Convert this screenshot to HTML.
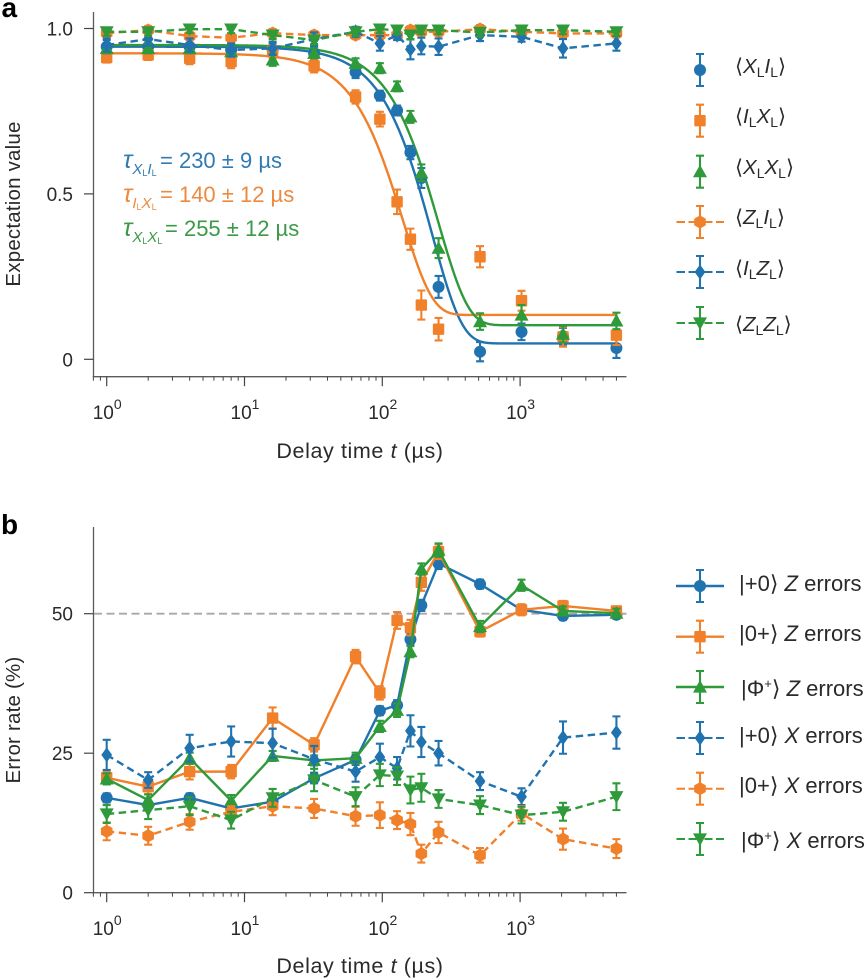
<!DOCTYPE html>
<html lang="en">
<head>
<meta charset="utf-8">
<title>Expectation values and error rates vs delay time</title>
<style>
html,body{margin:0;padding:0;background:#fff;}
svg{display:block;}
text{font-family:"Liberation Sans","DejaVu Sans",sans-serif;fill:#2a2a2a;}
.tick{font-size:19px;}
.axt{font-size:21.5px;letter-spacing:.6px;}
.axy{font-size:20.5px;letter-spacing:.2px;}
.lega{font-size:20.5px;}
.leg{font-size:22px;}
.ann{font-size:22px;}
.sym{font-family:"DejaVu Sans","Liberation Sans",sans-serif;font-weight:200;}
.panel{font-size:28px;font-weight:bold;fill:#000;}
</style>
</head>
<body>
<svg id="fig" xmlns="http://www.w3.org/2000/svg" width="867" height="980" viewBox="0 0 867 980">
  <text class="panel" x="1.5" y="17">a</text>
  <text class="panel" x="1" y="534">b</text>

  <text class="axy" transform="translate(20,204) rotate(-90)" text-anchor="middle">Expectation value</text>
  <text class="axt" x="360" y="458" text-anchor="middle">Delay time <tspan font-style="italic">t</tspan> (µs)</text>
  <text class="axy" transform="translate(20,720) rotate(-90)" text-anchor="middle">Error rate (%)</text>
  <text class="axt" x="360" y="973" text-anchor="middle">Delay time <tspan font-style="italic">t</tspan> (µs)</text>

  <g id="plot-a"></g>
  <g id="plot-b"></g>
  <g id="legend-marks"></g>

  <text class="ann" x="123" y="168" style="fill:#2f7bb2"><tspan font-style="italic" font-size="25">τ</tspan><tspan font-style="italic" font-size="15" dy="6">X</tspan><tspan font-size="9" dy="2">L</tspan><tspan font-style="italic" font-size="15" dy="-2">I</tspan><tspan font-size="9" dy="2">L</tspan><tspan x="160" y="168">= 230 ± 9 µs</tspan></text>
  <text class="ann" x="123" y="202" style="fill:#ec8a40"><tspan font-style="italic" font-size="25">τ</tspan><tspan font-style="italic" font-size="15" dy="6">I</tspan><tspan font-size="9" dy="2">L</tspan><tspan font-style="italic" font-size="15" dy="-2">X</tspan><tspan font-size="9" dy="2">L</tspan><tspan x="160" y="202">= 140 ± 12 µs</tspan></text>
  <text class="ann" x="123" y="236" style="fill:#3b9a48"><tspan font-style="italic" font-size="25">τ</tspan><tspan font-style="italic" font-size="15" dy="6">X</tspan><tspan font-size="9" dy="2">L</tspan><tspan font-style="italic" font-size="15" dy="-2">X</tspan><tspan font-size="9" dy="2">L</tspan><tspan x="165" y="236">= 255 ± 12 µs</tspan></text>

  <g>
    <text class="lega" x="735" y="73"><tspan class="sym">⟨</tspan><tspan font-style="italic">X</tspan><tspan font-size="14" dy="4">L</tspan><tspan font-style="italic" dy="-4">I</tspan><tspan font-size="14" dy="4">L</tspan><tspan class="sym" dy="-4">⟩</tspan></text>
    <text class="lega" x="735" y="123"><tspan class="sym">⟨</tspan><tspan font-style="italic">I</tspan><tspan font-size="14" dy="4">L</tspan><tspan font-style="italic" dy="-4">X</tspan><tspan font-size="14" dy="4">L</tspan><tspan class="sym" dy="-4">⟩</tspan></text>
    <text class="lega" x="735" y="174"><tspan class="sym">⟨</tspan><tspan font-style="italic">X</tspan><tspan font-size="14" dy="4">L</tspan><tspan font-style="italic" dy="-4">X</tspan><tspan font-size="14" dy="4">L</tspan><tspan class="sym" dy="-4">⟩</tspan></text>
    <text class="lega" x="735" y="224"><tspan class="sym">⟨</tspan><tspan font-style="italic">Z</tspan><tspan font-size="14" dy="4">L</tspan><tspan font-style="italic" dy="-4">I</tspan><tspan font-size="14" dy="4">L</tspan><tspan class="sym" dy="-4">⟩</tspan></text>
    <text class="lega" x="735" y="275"><tspan class="sym">⟨</tspan><tspan font-style="italic">I</tspan><tspan font-size="14" dy="4">L</tspan><tspan font-style="italic" dy="-4">Z</tspan><tspan font-size="14" dy="4">L</tspan><tspan class="sym" dy="-4">⟩</tspan></text>
    <text class="lega" x="735" y="331"><tspan class="sym">⟨</tspan><tspan font-style="italic">Z</tspan><tspan font-size="14" dy="4">L</tspan><tspan font-style="italic" dy="-4">Z</tspan><tspan font-size="14" dy="4">L</tspan><tspan class="sym" dy="-4">⟩</tspan></text>
  </g>
  <g>
    <text class="leg" x="739" y="591">|+0<tspan class="sym">⟩</tspan> <tspan font-style="italic">Z</tspan> errors</text>
    <text class="leg" x="739" y="641">|0+<tspan class="sym">⟩</tspan> <tspan font-style="italic">Z</tspan> errors</text>
    <text class="leg" x="741" y="696">|Φ<tspan font-size="13" dy="-8">+</tspan><tspan class="sym" dy="8">⟩</tspan> <tspan font-style="italic">Z</tspan> errors</text>
    <text class="leg" x="739" y="743">|+0<tspan class="sym">⟩</tspan> <tspan font-style="italic">X</tspan> errors</text>
    <text class="leg" x="739" y="793">|0+<tspan class="sym">⟩</tspan> <tspan font-style="italic">X</tspan> errors</text>
    <text class="leg" x="741" y="848">|Φ<tspan font-size="13" dy="-8">+</tspan><tspan class="sym" dy="8">⟩</tspan> <tspan font-style="italic">X</tspan> errors</text>
  </g>
</svg>
<script>
// ---- shared categories ----
const delayTimes = [1,2,4,8,16,32,64,96,128,160,192,256,512,1024,2048,5000];
const xTickExponents = [0,1,2,3];
const yTicksA = [0,0.5,1];
const yTickLabelsA = ['0','0.5','1.0'];
const yTicksB = [0,25,50];
const yTickLabelsB = ['0','25','50'];

// ---- panel a values ----
const xiValues = [.945,.945,.945,.935,.935,.925,.868,.797,.752,.625,.548,.219,.023,.083,.07,.034];
const xiErrors = [.02,.02,.02,.02,.02,.02,.018,.015,.015,.02,.03,.033,.029,.025,.025,.03];
const ixValues = [.912,.92,.91,.9,.93,.887,.793,.726,.476,.363,.164,.091,.31,.177,.068,.073];
const ixErrors = [.015,.015,.018,.02,.02,.02,.02,.022,.037,.032,.044,.034,.032,.03,.03,.03];
const xxValues = [.94,.94,.94,.93,.905,.925,.895,.88,.825,.733,.564,.336,.114,.134,.076,.116];
const xxErrors = [.015,.015,.015,.015,.018,.015,.015,.015,.015,.018,.025,.03,.025,.03,.025,.025];
const ziValues = [.986,.995,.977,.972,.986,.98,.98,.98,.98,.995,.99,.99,.998,.99,.985,.985];
const ziErrors = [.012,.012,.012,.012,.012,.012,.012,.012,.012,.012,.012,.012,.012,.012,.012,.012];
const izValues = [.95,.968,.95,.935,.94,.968,.99,.955,.98,.937,.947,.945,.98,.975,.94,.955];
const izErrors = [.02,.02,.02,.02,.02,.02,.015,.022,.015,.03,.025,.025,.018,.015,.028,.022];
const zzValues = [.99,.99,.998,.998,.98,.965,.99,.998,.995,.98,.995,.995,.988,.995,.995,.99];
const zzErrors = [.012,.012,.012,.012,.012,.012,.012,.012,.012,.012,.012,.012,.012,.012,.012,.012];

// ---- panel a decay-fit parameters ----
const fitNames = ['xi','ix','xx'];
const fitTau = [230,140,255];
const fitTop = [.945,.925,.95];
const fitBottom = [.048,.134,.103];

// ---- panel b values ----
const plus0Z = [17,15.7,17,15.1,16.3,20.5,23.8,32.6,33.6,45.4,51.5,59,55.3,50.7,49.6,49.8];
const plus0ZErr = [.8,.8,.8,.8,.8,.9,.9,.8,.9,1,1,1,.8,.8,.7,.7];
const zeroPlusZ = [20.6,19,21.7,21.7,31.3,26.5,42.3,35.8,48.8,47.5,55.6,61.1,46.8,50.7,51.4,50.5];
const zeroPlusZErr = [1.2,1.3,1.4,1.2,1.9,1.2,1.2,1.2,1.5,1.4,1.5,1.3,.9,1,.9,.8];
const phiZ = [20.4,16.6,24.1,16.5,24.5,23.7,24.1,29.8,32.7,43.2,58,61.4,47.7,55.1,50.5,50.1];
const phiZErr = [1,1,1,1,.9,.9,1,1,1.2,1,1,1.2,1,1,.8,.8];
const plus0X = [24.7,20.2,25.9,27.1,26.8,23.9,21.7,24.3,22.3,29,27,25,20,17.2,27.8,28.7];
const plus0XErr = [2.7,1.4,2.4,2.7,2.6,2.4,1.8,2.4,2,2.8,2.7,2.2,1.6,1.5,2.9,2.9];
const zeroPlusX = [11,10.2,12.7,14.5,15.5,15.1,13.7,13.9,13,12.3,7,10.8,6.7,14.2,9.6,7.9];
const zeroPlusXErr = [1.6,1.6,1.4,1,1.6,1.7,1.7,2.3,1.6,2,1.6,1.9,1.3,1.3,1.9,1.7];
const phiX = [14.1,14.8,15.5,13,17,20.2,17.2,21.1,20.9,18.4,18.8,16.8,15.7,13.9,14.5,17.2];
const phiXErr = [1.6,1.6,1.6,1.5,1.6,2,1.7,2,1.6,2.4,2.5,1.6,1.6,1.5,1.6,2.4];

const BLUE='#2073ae', ORANGE='#f0802a', GREEN='#2f9a3a';
const NS='http://www.w3.org/2000/svg';

function make(parent, tag, attrs){
  const el=document.createElementNS(NS,tag);
  for(const k in attrs) el.setAttribute(k,attrs[k]);
  parent.appendChild(el);
  return el;
}
const xScale = t => 106.7 + 137.8*Math.log10(t);
const yScaleA = v => 359.3 - 330.8*v;
const yScaleB = v => 892.7 - 5.58*v;

function markerShape(parent, kind, cx, cy, color){
  let el;
  const pts = a => a.map(p=>(cx+p[0])+','+(cy+p[1])).join(' ');
  if(kind==='circle') el=make(parent,'circle',{cx:cx,cy:cy,r:6,fill:color});
  else if(kind==='square') el=make(parent,'rect',{x:cx-5.7,y:cy-5.7,width:11.4,height:11.4,rx:1,fill:color});
  else if(kind==='up') el=make(parent,'polygon',{points:pts([[0,-7],[7,5.6],[-7,5.6]]),fill:color});
  else if(kind==='down') el=make(parent,'polygon',{points:pts([[0,7],[7,-5.6],[-7,-5.6]]),fill:color});
  else if(kind==='diamond') el=make(parent,'polygon',{points:pts([[0,-7.5],[5.4,0],[0,7.5],[-5.4,0]]),fill:color});
  else el=make(parent,'polygon',{points:pts([[0,-6.6],[5.8,-3.3],[5.8,3.3],[0,6.6],[-5.8,3.3],[-5.8,-3.3]]),fill:color});
  return el;
}

function errorBar(parent, x, y1, y2, color){
  const d='M'+x+' '+y1+'V'+y2+'M'+(x-4)+' '+y1+'H'+(x+4)+'M'+(x-4)+' '+y2+'H'+(x+4);
  const el=make(parent,'path',{d:d,stroke:color,'stroke-width':2.1,fill:'none'});
  
  
}

function drawAxes(g, yTicks, yLabels, yScale, top, bottom, axisName){
  const spineY=make(g,'line',{x1:93.5,x2:93.5,y1:top,y2:bottom,stroke:'#5a5a5a','stroke-width':1.3});
  
  
  const spineX=make(g,'line',{x1:92.8,x2:626.5,y1:bottom,y2:bottom,stroke:'#5a5a5a','stroke-width':1.3});
  
  
  yTicks.forEach((v,i)=>{
    const tk=make(g,'line',{x1:84,x2:93.5,y1:yScale(v),y2:yScale(v),stroke:'#444','stroke-width':1.2});
    
    
    const lb=make(g,'text',{x:73,y:yScale(v)+7,'text-anchor':'end','class':'tick'});
    
    
    lb.textContent=yLabels[i];
  });
  for(let e=-1;e<=3;e++){
    for(let m=1;m<=9;m++){
      const t=m*Math.pow(10,e), x=xScale(t);
      if(x<93||x>627) continue;
      const major=m===1;
      const tk=make(g,'line',{x1:x,x2:x,y1:bottom,y2:bottom+(major?9.5:4),stroke:'#444','stroke-width':major?1.2:1});
      
      
    }
  }
  xTickExponents.forEach(e=>{
    const x=xScale(Math.pow(10,e));
    const lb=make(g,'text',{x:x-14,y:bottom+42.5,'class':'tick'});
    
    
    lb.textContent='10';
    const sup=make(lb,'tspan',{dy:-10,'font-size':14});
    sup.textContent=String(e);
  });
}

function drawSeries(g, name, values, errors, yScale, kind, color, lineMode){
  const s=make(g,'g',{});
  
  
  if(lineMode){
    const pts=values.map((v,i)=>xScale(delayTimes[i])+','+yScale(v)).join(' ');
    const ln=make(s,'polyline',{points:pts,fill:'none',stroke:color,'stroke-width':2.4,'stroke-linejoin':'round'});
    if(lineMode==='dash') ln.setAttribute('stroke-dasharray','7.5 4.5');
    
    
  }
  values.forEach((v,i)=>{
    const x=xScale(delayTimes[i]);
    errorBar(s,x,yScale(v+errors[i]),yScale(v-errors[i]),color);
    const m=markerShape(s,kind,x,yScale(v),color);
    
    
  });
}

function fitCurve(g, idx, color){
  const d=[];
  for(let lt=0;lt<=3.7;lt+=0.01){
    const t=Math.pow(10,lt);
    const v=fitBottom[idx]+(fitTop[idx]-fitBottom[idx])*Math.exp(-Math.pow(t/fitTau[idx],2));
    d.push(xScale(t).toFixed(2)+','+yScaleA(v).toFixed(2));
  }
  const ln=make(g,'polyline',{points:d.join(' '),fill:'none',stroke:color,'stroke-width':2.4});
  
  
}

const gA=document.getElementById('plot-a');
drawAxes(gA,yTicksA,yTickLabelsA,yScaleA,12,376.7,'a');
fitCurve(gA,0,BLUE);
fitCurve(gA,1,ORANGE);
fitCurve(gA,2,GREEN);
drawSeries(gA,'xi',xiValues,xiErrors,yScaleA,'circle',BLUE,null);
drawSeries(gA,'ix',ixValues,ixErrors,yScaleA,'square',ORANGE,null);
drawSeries(gA,'xx',xxValues,xxErrors,yScaleA,'up',GREEN,null);
drawSeries(gA,'zi',ziValues,ziErrors,yScaleA,'hex',ORANGE,'dash');
drawSeries(gA,'iz',izValues,izErrors,yScaleA,'diamond',BLUE,'dash');
drawSeries(gA,'zz',zzValues,zzErrors,yScaleA,'down',GREEN,'dash');

const gB=document.getElementById('plot-b');
drawAxes(gB,yTicksB,yTickLabelsB,yScaleB,527,892.7,'b');
const refLine=make(gB,'line',{x1:94,x2:626.5,y1:yScaleB(50),y2:yScaleB(50),stroke:'#a8a8a8','stroke-width':1.8,'stroke-dasharray':'8 4.5'});


drawSeries(gB,'plus0-z',plus0Z,plus0ZErr,yScaleB,'circle',BLUE,'solid');
drawSeries(gB,'0plus-z',zeroPlusZ,zeroPlusZErr,yScaleB,'square',ORANGE,'solid');
drawSeries(gB,'phi-z',phiZ,phiZErr,yScaleB,'up',GREEN,'solid');
drawSeries(gB,'plus0-x',plus0X,plus0XErr,yScaleB,'diamond',BLUE,'dash');
drawSeries(gB,'0plus-x',zeroPlusX,zeroPlusXErr,yScaleB,'hex',ORANGE,'dash');
drawSeries(gB,'phi-x',phiX,phiXErr,yScaleB,'down',GREEN,'dash');

// ---- legend keys ----
const legendKinds = ['circle','square','up','hex','diamond','down','circle','square','up','diamond','hex','down'];
const legendColors = [BLUE,ORANGE,GREEN,ORANGE,BLUE,GREEN,BLUE,ORANGE,GREEN,BLUE,ORANGE,GREEN];
const legendLines = ['','','','dash','dash','dash','solid','solid','solid','dash','dash','dash'];
const legendRows = [70,120.7,171.7,222,272,323,586,636.7,687,738,788.7,839];
const gL=document.getElementById('legend-marks');
legendRows.forEach((y,i)=>{
  const c=legendColors[i];
  const k=make(gL,'g',{});
  
  
  if(legendLines[i]==='solid'){
    make(k,'line',{x1:676,x2:724,y1:y,y2:y,stroke:c,'stroke-width':2.4});
  } else if(legendLines[i]==='dash'){
    make(k,'line',{x1:676.5,x2:724,y1:y,y2:y,stroke:c,'stroke-width':2,'stroke-dasharray':'8.5 3.5 8 8 8 3.5 8.5'});
  }
  errorBar(k,700,y-16,y+16,c);
  markerShape(k,legendKinds[i],700,y,c);
});
</script>
</body>
</html>
